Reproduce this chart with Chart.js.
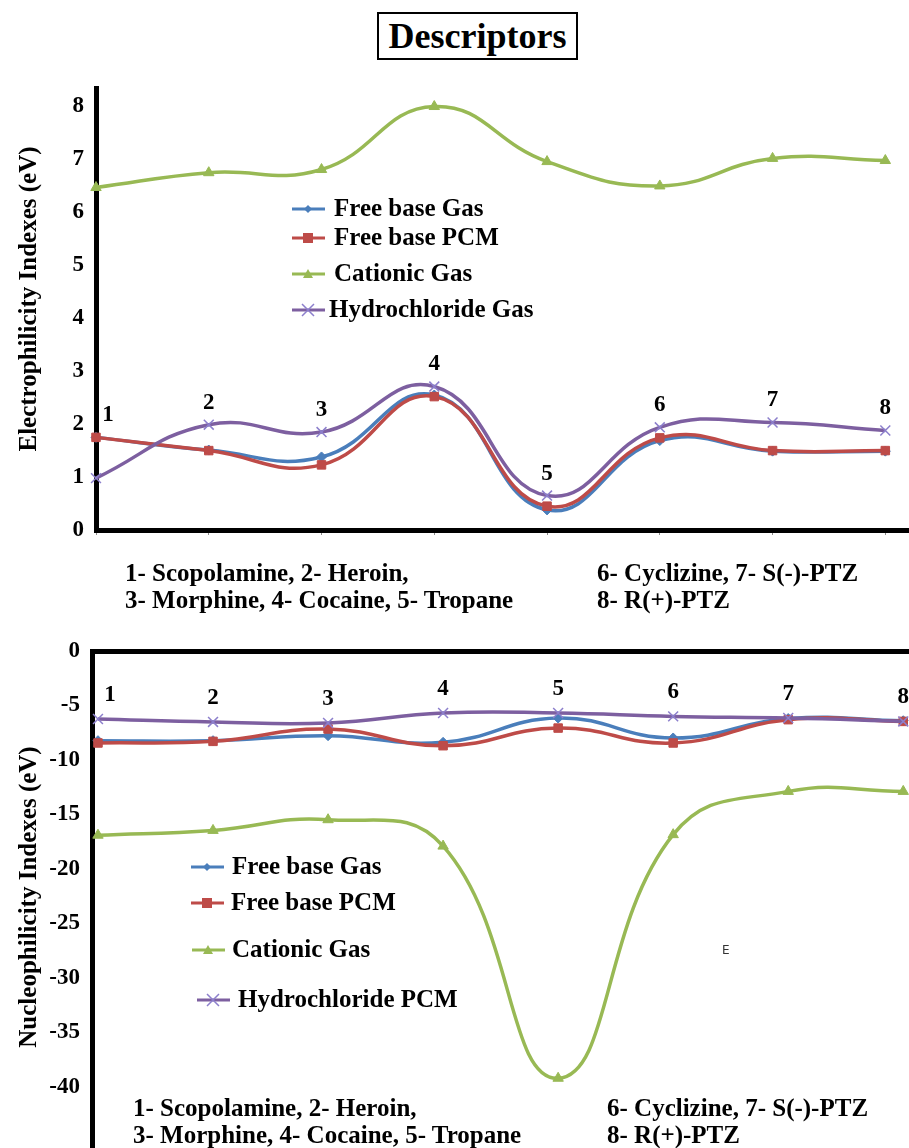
<!DOCTYPE html>
<html>
<head>
<meta charset="utf-8">
<script src="https://cdn.jsdelivr.net/npm/chart.js@4.4.1/dist/chart.umd.min.js"></script>
<style>
    body { margin: 0; background: #fff; }
    #page { position: relative; width: 909px; height: 1148px; overflow: hidden; font-family: "Liberation Serif", "Times New Roman", serif; font-weight: bold; color: #000; }
    #title { position: absolute; left: 377px; top: 12px; width: 197px; height: 44px; border: 2px solid #000; font-size: 36px; line-height: 44px; text-align: center; }
    .box { position: absolute; left: 0; width: 909px; }
    .note { position: absolute; font-size: 25px; line-height: 27px; white-space: nowrap; }
    #mark { position: absolute; left: 722px; top: 943px; font-family: "DejaVu Sans", sans-serif; font-weight: normal; font-size: 12px; color: #333; }
</style>
</head>
<body>
<div id="page">
    <div id="title">Descriptors</div>
    <div class="box" style="top:0;height:560px"><canvas id="elecChart" width="909" height="560"></canvas></div>
    <div class="box" style="top:620px;height:528px"><canvas id="nucChart" width="909" height="528"></canvas></div>

    <div class="note" style="left:125px;top:559px">1- Scopolamine, 2- Heroin,<br>3- Morphine, 4- Cocaine, 5- Tropane</div>
    <div class="note" style="left:597px;top:559px">6- Cyclizine, 7- S(-)-PTZ<br>8- R(+)-PTZ</div>
    <div class="note" style="left:133px;top:1094px">1- Scopolamine, 2- Heroin,<br>3- Morphine, 4- Cocaine, 5- Tropane</div>
    <div class="note" style="left:607px;top:1094px">6- Cyclizine, 7- S(-)-PTZ<br>8- R(+)-PTZ</div>
    <div id="mark">E</div>
</div>

<script>
// Compound numbers (1..8) on the x axis
const categories = [1, 2, 3, 4, 5, 6, 7, 8];

// Electrophilicity indexes (eV)
const elecFreeGas = [1.75, 1.51, 1.38, 2.55, 0.38, 1.69, 1.49, 1.49];
const elecFreePcm = [1.75, 1.50, 1.23, 2.52, 0.45, 1.74, 1.50, 1.50];
const elecCationGas = [6.47, 6.75, 6.81, 8.00, 6.96, 6.50, 7.02, 6.98];
const elecHydroGas = [0.98, 1.99, 1.85, 2.71, 0.65, 1.94, 2.03, 1.88];

// Nucleophilicity indexes (eV)
const nucFreeGas = [-8.23, -8.23, -7.77, -8.38, -6.15, -7.98, -6.20, -6.40];
const nucFreePcm = [-8.44, -8.29, -7.16, -8.69, -7.07, -8.44, -6.30, -6.46];
const nucCationGas = [-16.90, -16.46, -15.48, -17.90, -39.20, -16.85, -12.88, -12.88];
const nucHydroPcm = [-6.24, -6.51, -6.60, -5.69, -5.69, -6.00, -6.15, -6.46];

const elecTicks = [0, 1, 2, 3, 4, 5, 6, 7, 8];
const nucTicks = [-40, -35, -30, -25, -20, -15, -10, -5, 0];

const SERIF = '"Liberation Serif", "Times New Roman", serif';
const BLUE = '#4A7EBB', RED = '#BE4B48', GREEN = '#98B954', PURPLE = '#7D5FA0', XMARK = '#8C7FCC';

function xy(values) {
    return categories.map((c, i) => ({ x: c, y: values[i] }));
}

function series(label, values, style) {
    const base = {
        label: label,
        data: xy(values),
        borderWidth: 3.5,
        tension: 0.45,
        clip: false,
        pointBorderWidth: 1,
        pointHoverRadius: 6
    };
    return Object.assign(base, style);
}

const styles = {
    blue: { borderColor: BLUE, backgroundColor: BLUE, pointBackgroundColor: BLUE, pointBorderColor: BLUE, pointStyle: 'rectRot', pointRadius: 5, order: 4 },
    red: { borderColor: RED, backgroundColor: RED, pointBackgroundColor: RED, pointBorderColor: RED, pointStyle: 'rect', pointRadius: 6, order: 3 },
    green: { borderColor: GREEN, backgroundColor: GREEN, pointBackgroundColor: GREEN, pointBorderColor: GREEN, pointStyle: 'triangle', pointRadius: 6, order: 2, numbered: false },
    purple: { borderColor: PURPLE, backgroundColor: XMARK, pointBackgroundColor: XMARK, pointBorderColor: XMARK, pointStyle: 'crossRot', pointRadius: 7, pointBorderWidth: 1.5, order: 1 }
};

// draws a small legend marker at (x, y)
function drawMarker(ctx, style, x, y) {
    ctx.save();
    ctx.fillStyle = style.pointBackgroundColor;
    ctx.strokeStyle = style.pointBorderColor;
    ctx.lineWidth = 1.5;
    const r = style.pointRadius - 1;
    ctx.beginPath();
    if (style.pointStyle === 'rectRot') {
        ctx.moveTo(x, y - r); ctx.lineTo(x + r, y); ctx.lineTo(x, y + r); ctx.lineTo(x - r, y); ctx.closePath(); ctx.fill();
    } else if (style.pointStyle === 'rect') {
        ctx.fillRect(x - r, y - r, 2 * r, 2 * r);
    } else if (style.pointStyle === 'triangle') {
        ctx.moveTo(x, y - r); ctx.lineTo(x + r, y + r * 0.8); ctx.lineTo(x - r, y + r * 0.8); ctx.closePath(); ctx.fill();
    } else {
        ctx.moveTo(x - r, y - r); ctx.lineTo(x + r, y + r); ctx.moveTo(x + r, y - r); ctx.lineTo(x - r, y + r); ctx.stroke();
    }
    ctx.restore();
}

// Legend, compound numbers and rotated axis title, all drawn on the canvas
const annotations = {
    id: 'annotations',
    afterDatasetsDraw(chart, args, opts) {
        const ctx = chart.ctx;
        const xs = chart.scales.x, ys = chart.scales.y;

        // compound numbers above the neutral/hydrochloride curves (cationic one skipped)
        ctx.save();
        ctx.font = 'bold 23px ' + SERIF;
        ctx.fillStyle = '#000';
        ctx.textAlign = 'center';
        ctx.textBaseline = 'middle';
        categories.forEach((c, i) => {
            let top = Infinity;
            chart.data.datasets.forEach(ds => {
                if (ds.numbered === false) return;
                top = Math.min(top, ys.getPixelForValue(ds.data[i].y));
            });
            const x = xs.getPixelForValue(c) + (i === 0 ? 12 : 0);
            ctx.fillText(String(c), x, top - opts.labelGap);
        });
        ctx.restore();

        // legend
        ctx.save();
        ctx.font = 'bold 25px ' + SERIF;
        ctx.textBaseline = 'middle';
        ctx.fillStyle = '#000';
        opts.legend.forEach(item => {
            const ds = chart.data.datasets[item.index];
            ctx.strokeStyle = ds.borderColor;
            ctx.lineWidth = 3;
            ctx.beginPath();
            ctx.moveTo(item.x, item.y);
            ctx.lineTo(item.x + 33, item.y);
            ctx.stroke();
            drawMarker(ctx, ds, item.x + 16, item.y);
            ctx.fillText(ds.label, item.textX, item.y + 1);
        });
        ctx.restore();

        // y axis title
        ctx.save();
        ctx.font = 'bold 25px ' + SERIF;
        ctx.fillStyle = '#000';
        ctx.textAlign = 'center';
        ctx.textBaseline = 'middle';
        ctx.translate(opts.titleX, opts.titleY);
        ctx.rotate(-Math.PI / 2);
        ctx.fillText(opts.title, 0, 0);
        ctx.restore();
    }
};

function axisOptions(cfg) {
    return {
        x: {
            type: 'linear',
            position: cfg.xPosition,
            min: cfg.xMin,
            max: cfg.xMax,
            afterFit: s => { s.height = cfg.xHeight; s.paddingLeft = 0; s.paddingRight = 0; },
            ticks: { display: false, stepSize: 1, includeBounds: false },
            grid: { display: cfg.xTickMarks, drawOnChartArea: false, tickLength: 5, color: '#8a8a8a' },
            border: { display: true, color: '#000', width: 5 }
        },
        y: {
            min: cfg.yMin,
            max: cfg.yMax,
            afterFit: s => { s.width = cfg.yWidth; s.paddingTop = 0; s.paddingBottom = 0; },
            afterBuildTicks: s => { s.ticks = cfg.yTicks.map(v => ({ value: v })); },
            ticks: { color: '#000', padding: 12, font: { family: SERIF, size: 23, weight: 'bold' } },
            grid: { display: false, drawTicks: false },
            border: { display: true, color: '#000', width: 5 }
        }
    };
}

const commonPlugins = {
    legend: { display: false },
    tooltip: { enabled: true }
};

// Electrophilicity chart (top)
new Chart(document.getElementById('elecChart'), {
    type: 'line',
    data: {
        datasets: [
            series('Free base Gas', elecFreeGas, styles.blue),
            series('Free base PCM', elecFreePcm, styles.red),
            series('Cationic Gas', elecCationGas, styles.green),
            series('Hydrochloride Gas', elecHydroGas, styles.purple)
        ]
    },
    options: {
        responsive: false,
        animation: false,
        layout: { autoPadding: false, padding: { top: 88, left: 0, right: 0, bottom: 0 } },
        scales: axisOptions({ xPosition: 'bottom', xMin: 1, xMax: 8.21, xHeight: 30, xTickMarks: true, yMin: 0, yMax: 8.35, yWidth: 96, yTicks: elecTicks }),
        plugins: Object.assign({}, commonPlugins, {
            annotations: {
                labelGap: 22,
                title: 'Electrophilicity Indexes (eV)',
                titleX: 30, titleY: 299,
                legend: [
                    { index: 0, x: 292, y: 209, textX: 334 },
                    { index: 1, x: 292, y: 238, textX: 334 },
                    { index: 2, x: 292, y: 274, textX: 334 },
                    { index: 3, x: 292, y: 310, textX: 329 }
                ]
            }
        })
    },
    plugins: [annotations]
});

// Nucleophilicity chart (bottom), x axis along the zero line at the top
new Chart(document.getElementById('nucChart'), {
    type: 'line',
    data: {
        datasets: [
            series('Free base Gas', nucFreeGas, styles.blue),
            series('Free base PCM', nucFreePcm, styles.red),
            series('Cationic Gas', nucCationGas, styles.green),
            series('Hydrochloride PCM', nucHydroPcm, styles.purple)
        ]
    },
    options: {
        responsive: false,
        animation: false,
        layout: { autoPadding: false, padding: 0 },
        scales: axisOptions({ xPosition: 'top', xMin: 0.948, xMax: 8.05, xHeight: 31, xTickMarks: false, yMin: -45.6, yMax: 0, yWidth: 92, yTicks: nucTicks }),
        plugins: Object.assign({}, commonPlugins, {
            annotations: {
                labelGap: 24,
                title: 'Nucleophilicity Indexes (eV)',
                titleX: 30, titleY: 277,
                legend: [
                    { index: 0, x: 191, y: 247, textX: 232 },
                    { index: 1, x: 191, y: 283, textX: 231 },
                    { index: 2, x: 192, y: 330, textX: 232 },
                    { index: 3, x: 197, y: 380, textX: 238 }
                ]
            }
        })
    },
    plugins: [annotations]
});
</script>
</body>
</html>
